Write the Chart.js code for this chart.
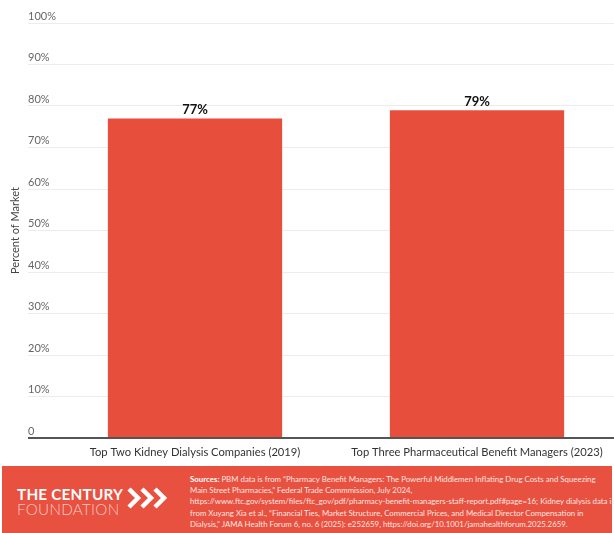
<!DOCTYPE html>
<html>
<head>
<meta charset="utf-8">
<script src="https://cdn.jsdelivr.net/npm/chart.js@4/dist/chart.umd.min.js"></script>
<style>
  html, body { margin: 0; padding: 0; background: #fff; }
  body { width: 614px; height: 533px; overflow: hidden; position: relative; font-family: Lato, "Open Sans", sans-serif; }
  #chartBox { position: absolute; left: 0; top: 0; width: 618px; height: 466px; }
  .footer { position: absolute; left: 2px; top: 466px; width: 610px; height: 67px; background: #e8503f; }
  .logo-top { position: absolute; left: 15px; top: 20px; color: #fff; font-weight: 700; font-size: 15.3px; letter-spacing: 0.2px; line-height: 16px; }
  .logo-bottom { position: absolute; left: 15px; top: 34px; color: #f9cbc4; font-weight: 300; font-size: 15.2px; letter-spacing: 0.3px; line-height: 18px; }
  .chevrons { position: absolute; left: 125px; top: 21px; }
  .sources { position: absolute; left: 188px; top: 8px; width: 424px; color: #fde6e2; font-size: 7.85px; line-height: 11.2px; white-space: nowrap; }
  .sources b { color: #fff; }
</style>
</head>
<body>
<div id="chartBox"><canvas id="shareChart" width="618" height="466"></canvas></div>
<div class="footer">
  <div class="logo-top">THE CENTURY</div>
  <div class="logo-bottom">FOUNDATION</div>
  <svg class="chevrons" width="44" height="22" viewBox="0 0 44 22">
    <polyline points="2,2 11,11 2,20" fill="none" stroke="#fff" stroke-width="4.5"/>
    <polyline points="15,2 24,11 15,20" fill="none" stroke="#fff" stroke-width="4.5"/>
    <polyline points="28,2 37,11 28,20" fill="none" stroke="#fff" stroke-width="4.5"/>
  </svg>
  <div class="sources">
    <b>Sources:</b> PBM data is from “Pharmacy Benefit Managers: The Powerful Middlemen Inflating Drug Costs and Squeezing<br>
    Main Street Pharmacies,” Federal Trade Commmission, July 2024,<br>
    https://www.ftc.gov/system/files/ftc_gov/pdf/pharmacy-benefit-managers-staff-report.pdf#page=16; Kidney dialysis data is<br>
    from Xuyang Xia et al., “Financial Ties, Market Structure, Commercial Prices, and Medical Director Compensation in<br>
    Dialysis,” JAMA Health Forum 6, no. 6 (2025): e252659, https://doi.org/10.1001/jamahealthforum.2025.2659.
  </div>
</div>
<script>
const categories = [
  'Top Two Kidney Dialysis Companies (2019)',
  'Top Three Pharmaceutical Benefit Managers (2023)'
];
const marketShare = [77, 79];
const yTicks = [0, 10, 20, 30, 40, 50, 60, 70, 80, 90, 100];

const barLabels = {
  id: 'barLabels',
  afterDatasetsDraw(chart) {
    const ctx = chart.ctx;
    const meta = chart.getDatasetMeta(0);
    ctx.save();
    ctx.font = 'bold 13px Lato, sans-serif';
    ctx.fillStyle = '#111';
    ctx.textAlign = 'center';
    ctx.textBaseline = 'bottom';
    meta.data.forEach((bar, i) => {
      ctx.fillText(marketShare[i] + '%', bar.x, bar.y - 2);
    });
    ctx.restore();
  }
};

new Chart(document.getElementById('shareChart').getContext('2d'), {
  type: 'bar',
  data: {
    labels: categories,
    datasets: [{
      label: 'Percent of Market',
      data: marketShare,
      backgroundColor: '#e84e3c',
      borderWidth: 0,
      categoryPercentage: 1,
      barPercentage: 0.618
    }]
  },
  options: {
    responsive: false,
    animation: false,
    layout: { padding: { top: 23, left: 0, right: 0, bottom: 0 } },
    plugins: {
      legend: { display: false },
      tooltip: { enabled: false }
    },
    scales: {
      x: {
        grid: { display: false, drawTicks: false },
        border: { display: false },
        ticks: {
          color: '#333',
          font: { family: 'Lato', size: 11.2 },
          padding: 8,
          maxRotation: 0
        },
        afterFit(scale) { scale.height = 28; }
      },
      y: {
        min: 0,
        max: 100,
        border: { display: false },
        afterBuildTicks(scale) { scale.ticks = yTicks.map(v => ({ value: v })); },
        afterFit(scale) { scale.width = 54; },
        grid: {
          color: c => (c.tick && c.tick.value === 0) ? '#555' : '#ececec',
          lineWidth: c => (c.tick && c.tick.value === 0) ? 2 : 1,
          drawTicks: true,
          tickLength: 26
        },
        ticks: {
          mirror: true,
          padding: -26,
          labelOffset: -7,
          color: '#666',
          font: { family: 'Lato', size: 11 },
          callback: v => v === 0 ? '0' : v + '%'
        },
        title: {
          display: true,
          text: 'Percent of Market',
          color: '#444',
          font: { family: 'Lato', size: 11 },
          padding: { top: 9, bottom: 10 }
        }
      }
    }
  },
  plugins: [barLabels]
});
</script>
</body>
</html>
